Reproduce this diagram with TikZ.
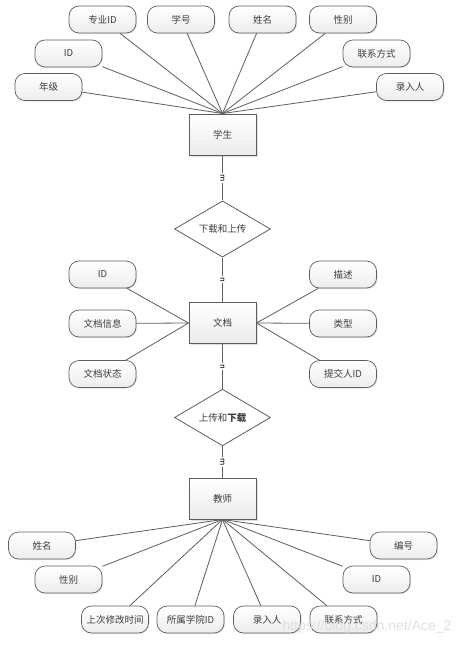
\documentclass[tikz,border=0pt]{standalone}
\usepackage{fontspec}
\newfontfamily\cjk{Noto Sans CJK SC}
\newfontfamily\wmfont{Liberation Sans}
\usetikzlibrary{shapes.geometric,shadows}
\definecolor{edge}{HTML}{5E5E5E}
\definecolor{txt}{HTML}{3C3C3C}

\begin{document}
\begin{tikzpicture}[x=1pt, y=-1pt,
  every node/.style={font=\cjk\fontsize{9.5}{11}\selectfont, text=txt},
  attr/.style={rectangle, rounded corners=10pt, draw=edge, line width=0.7pt,
               top color=white, bottom color=gray!14, minimum width=67pt,
               minimum height=27pt, inner sep=0pt,
               drop shadow={opacity=0.2, shadow xshift=1pt, shadow yshift=-1pt}},
  ent/.style={rectangle, draw=edge, line width=1pt, top color=white,
              bottom color=gray!16, minimum width=67pt, minimum height=41pt,
              drop shadow={opacity=0.25, shadow xshift=1.5pt, shadow yshift=-1.5pt}},
  rel/.style={diamond, draw=edge, line width=0.8pt, fill=white,
              minimum width=96pt, minimum height=40pt, inner sep=0pt},
  link/.style={draw=edge, line width=0.8pt},
  card/.style={rotate=-90, fill=white, inner sep=1pt, text=black,
               font=\sffamily\fontsize{9}{9}\selectfont},
]
\fill[white] (0,0) rectangle (471,645);

\node[ent] (stu) at (222.5,134.5) {学生};
\node[attr] (s1) at (102.5,19.5) {专业ID};
\node[attr] (s2) at (181,19.5) {学号};
\node[attr] (s3) at (262.5,19.5) {姓名};
\node[attr] (s4) at (343,19.5) {性别};
\node[attr] (s5) at (68.5,53.5) {ID};
\node[attr] (s6) at (376.5,53.5) {联系方式};
\node[attr] (s7) at (48.5,87) {年级};
\node[attr] (s8) at (410,87) {录入人};
\foreach \i in {1,...,8}
  \draw[link] (s\i) -- (stu.north);

\node[rel] (down) at (222.5,229) {下载和上传};

\node[ent] (doc) at (222.5,323) {文档};
\node[attr] (d1) at (102.5,274.5) {ID};
\node[attr] (d2) at (102.5,323.5) {文档信息};
\node[attr] (d3) at (102.5,374) {文档状态};
\node[attr] (d4) at (343,274.5) {描述};
\node[attr] (d5) at (343,323.5) {类型};
\node[attr] (d6) at (343,374) {提交人ID};
\foreach \i in {1,2,3}
  \draw[link] (d\i) -- (doc.west);
\foreach \i in {4,5,6}
  \draw[link] (d\i) -- (doc.east);

\node[rel] (up) at (222.5,417.5) {上传和\textbf{下载}};

\node[ent] (tea) at (222.5,498.5) {教师};
\node[attr] (t1) at (42,545.5) {姓名};
\node[attr] (t2) at (68.5,579.5) {性别};
\node[attr] (t3) at (115,619.5) {上次修改时间};
\node[attr] (t4) at (190.5,619.5) {所属学院ID};
\node[attr] (t5) at (267,619.5) {录入人};
\node[attr] (t6) at (343.5,619.5) {联系方式};
\node[attr] (t7) at (376.5,579.5) {ID};
\node[attr] (t8) at (403.5,545.5) {编号};
\foreach \i in {1,...,8}
  \draw[link] (t\i) -- (tea.south);

\draw[link] (stu) -- node[card]{m} (down);
\draw[link] (down) -- node[card]{n} (doc);
\draw[link] (doc) -- node[card]{n} (up);
\draw[link] (up) -- node[card]{m} (tea);

\node[font=\wmfont\fontsize{14}{14}\selectfont, text=gray!30, opacity=0.8]
  (wm) at (367,627) {https://blog.csdn.net/Ace\_2};

\end{tikzpicture}
\end{document}
